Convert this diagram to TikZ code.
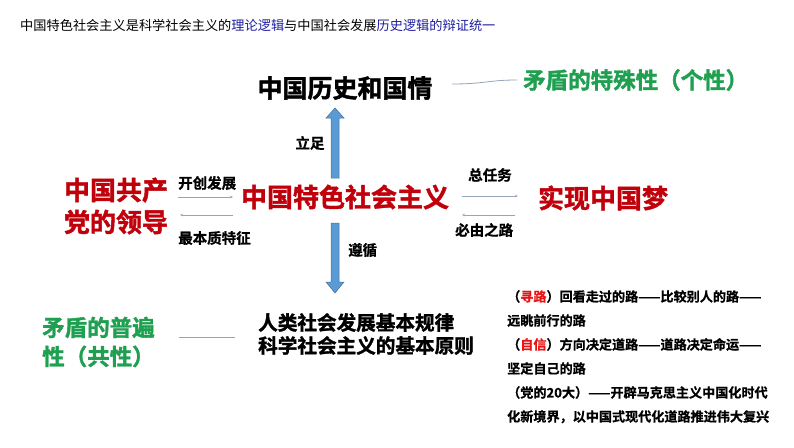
\documentclass[tikz,border=0pt]{standalone}
\usepackage{fontspec}
\setmainfont{Noto Sans CJK SC}[BoldFont={Noto Sans CJK SC Bold},BoldFeatures={FakeBold=0.8}]
\newfontfamily\heavy{Noto Sans CJK SC Bold}[FakeBold=1.6]
\usetikzlibrary{arrows.meta}
\definecolor{myred}{RGB}{192,0,10}
\definecolor{mygreen}{RGB}{30,160,80}
\definecolor{myblue}{RGB}{30,30,160}
\definecolor{linecol}{RGB}{150,165,185}
\definecolor{arrfill}{RGB}{91,155,213}
\definecolor{arrdraw}{RGB}{65,113,156}
\definecolor{brightred}{RGB}{230,20,20}
\tikzset{
  txt/.style={inner sep=0pt, anchor=center},
  big/.style={txt, font=\heavy\fontsize{26}{32}\selectfont, text=myred, align=center},
  lbl/.style={txt, font=\bfseries\fontsize{14.5}{18}\selectfont},
  grn/.style={txt, font=\heavy\fontsize{22.5}{29}\selectfont, text=mygreen, align=left},
  conn/.style={draw=linecol, line width=0.8pt},
  blockarrow/.style={fill=arrfill, draw=arrdraw, line width=0.5pt}
}
\begin{document}
\begin{tikzpicture}[x=1pt,y=-1pt]
\useasboundingbox (0,0) rectangle (794,447);
\fill[white] (0,0) rectangle (794,447);

% title
\node[txt, anchor=west, font=\fontsize{13.2}{16}\selectfont] (title) at (20,25)
  {中国特色社会主义是科学社会主义的\textcolor{myblue}{理论逻辑}与中国社会发展\textcolor{myblue}{历史逻辑的辩证统一}};

% top
\node[txt, font=\heavy\fontsize{25}{30}\selectfont] (hist) at (345,88) {中国历史和国情};
\node[grn, anchor=west] (tsx) at (523,80) {矛盾的特殊性（个性）};

% middle row
\node[big] (tese) at (345,197) {中国特色社会主义};
\node[big] (party) at (116,206) {中国共产\\党的领导};
\node[big] (dream) at (603,198) {实现中国梦};

% labels
\node[lbl, anchor=west] (kc) at (178,183) {开创发展};
\node[lbl, anchor=west] (bz) at (178,238) {最本质特征};
\node[lbl, anchor=west] (zrw) at (468,175) {总任务};
\node[lbl, anchor=west] (byzl) at (455,230) {必由之路};
\node[lbl] (lz) at (310,143) {立足};
\node[lbl, anchor=west] (zx) at (348,250) {遵循};

% bottom
\node[txt, anchor=west, font=\heavy\fontsize{19.6}{23}\selectfont, align=left] (law) at (258,334)
  {人类社会发展基本规律\\科学社会主义的基本原则};
\node[grn, anchor=west] (pbx) at (42,342) {矛盾的普遍\\性（共性）};

% right block
\node[txt, anchor=north west, font=\bfseries\fontsize{13.1}{24}\selectfont, align=left] (road) at (507,290)
  {（\textcolor{brightred}{寻路}）回看走过的路——比较别人的路——\\
   远眺前行的路\\
   （\textcolor{brightred}{自信}）方向决定道路——道路决定命运——\\
   坚定自己的路\\
   （党的20大）——开辟马克思主义中国化时代\\
   化新境界，以中国式现代化道路推进伟大复兴};

% thin connectors
\coordinate (c1a) at (452,84); \coordinate (c1b) at (517,80);
\draw[conn] (c1a) .. controls (485,84) and (488,80) .. (c1b);

\coordinate (c2a) at (178,197); \coordinate (c2b) at (233,197);
\draw[conn, -{Stealth[length=3pt,width=2.5pt]}] (c2a) -- (c2b);
\coordinate (c3a) at (233,215); \coordinate (c3b) at (180,215);
\draw[conn, -{Stealth[length=3pt,width=2.5pt]}] (c3a) -- (c3b);

\coordinate (c4a) at (462,196); \coordinate (c4b) at (518,196);
\draw[conn, -{Stealth[length=3pt,width=2.5pt]}] (c4a) -- (c4b);
\coordinate (c5a) at (515,215); \coordinate (c5b) at (462,215);
\draw[conn, -{Stealth[length=3pt,width=2.5pt]}] (c5a) -- (c5b);

\coordinate (c6a) at (179,337); \coordinate (c6b) at (235,337);
\draw[conn] (c6a) -- (c6b);

% block arrows
\draw[blockarrow] (331,178) -- (331,118) -- (326,118) -- (335,108) -- (344,118) -- (339,118) -- (339,178) -- cycle;
\draw[blockarrow] (331,223) -- (331,282) -- (326,282) -- (335,293) -- (344,282) -- (339,282) -- (339,223) -- cycle;
\end{tikzpicture}
\end{document}
